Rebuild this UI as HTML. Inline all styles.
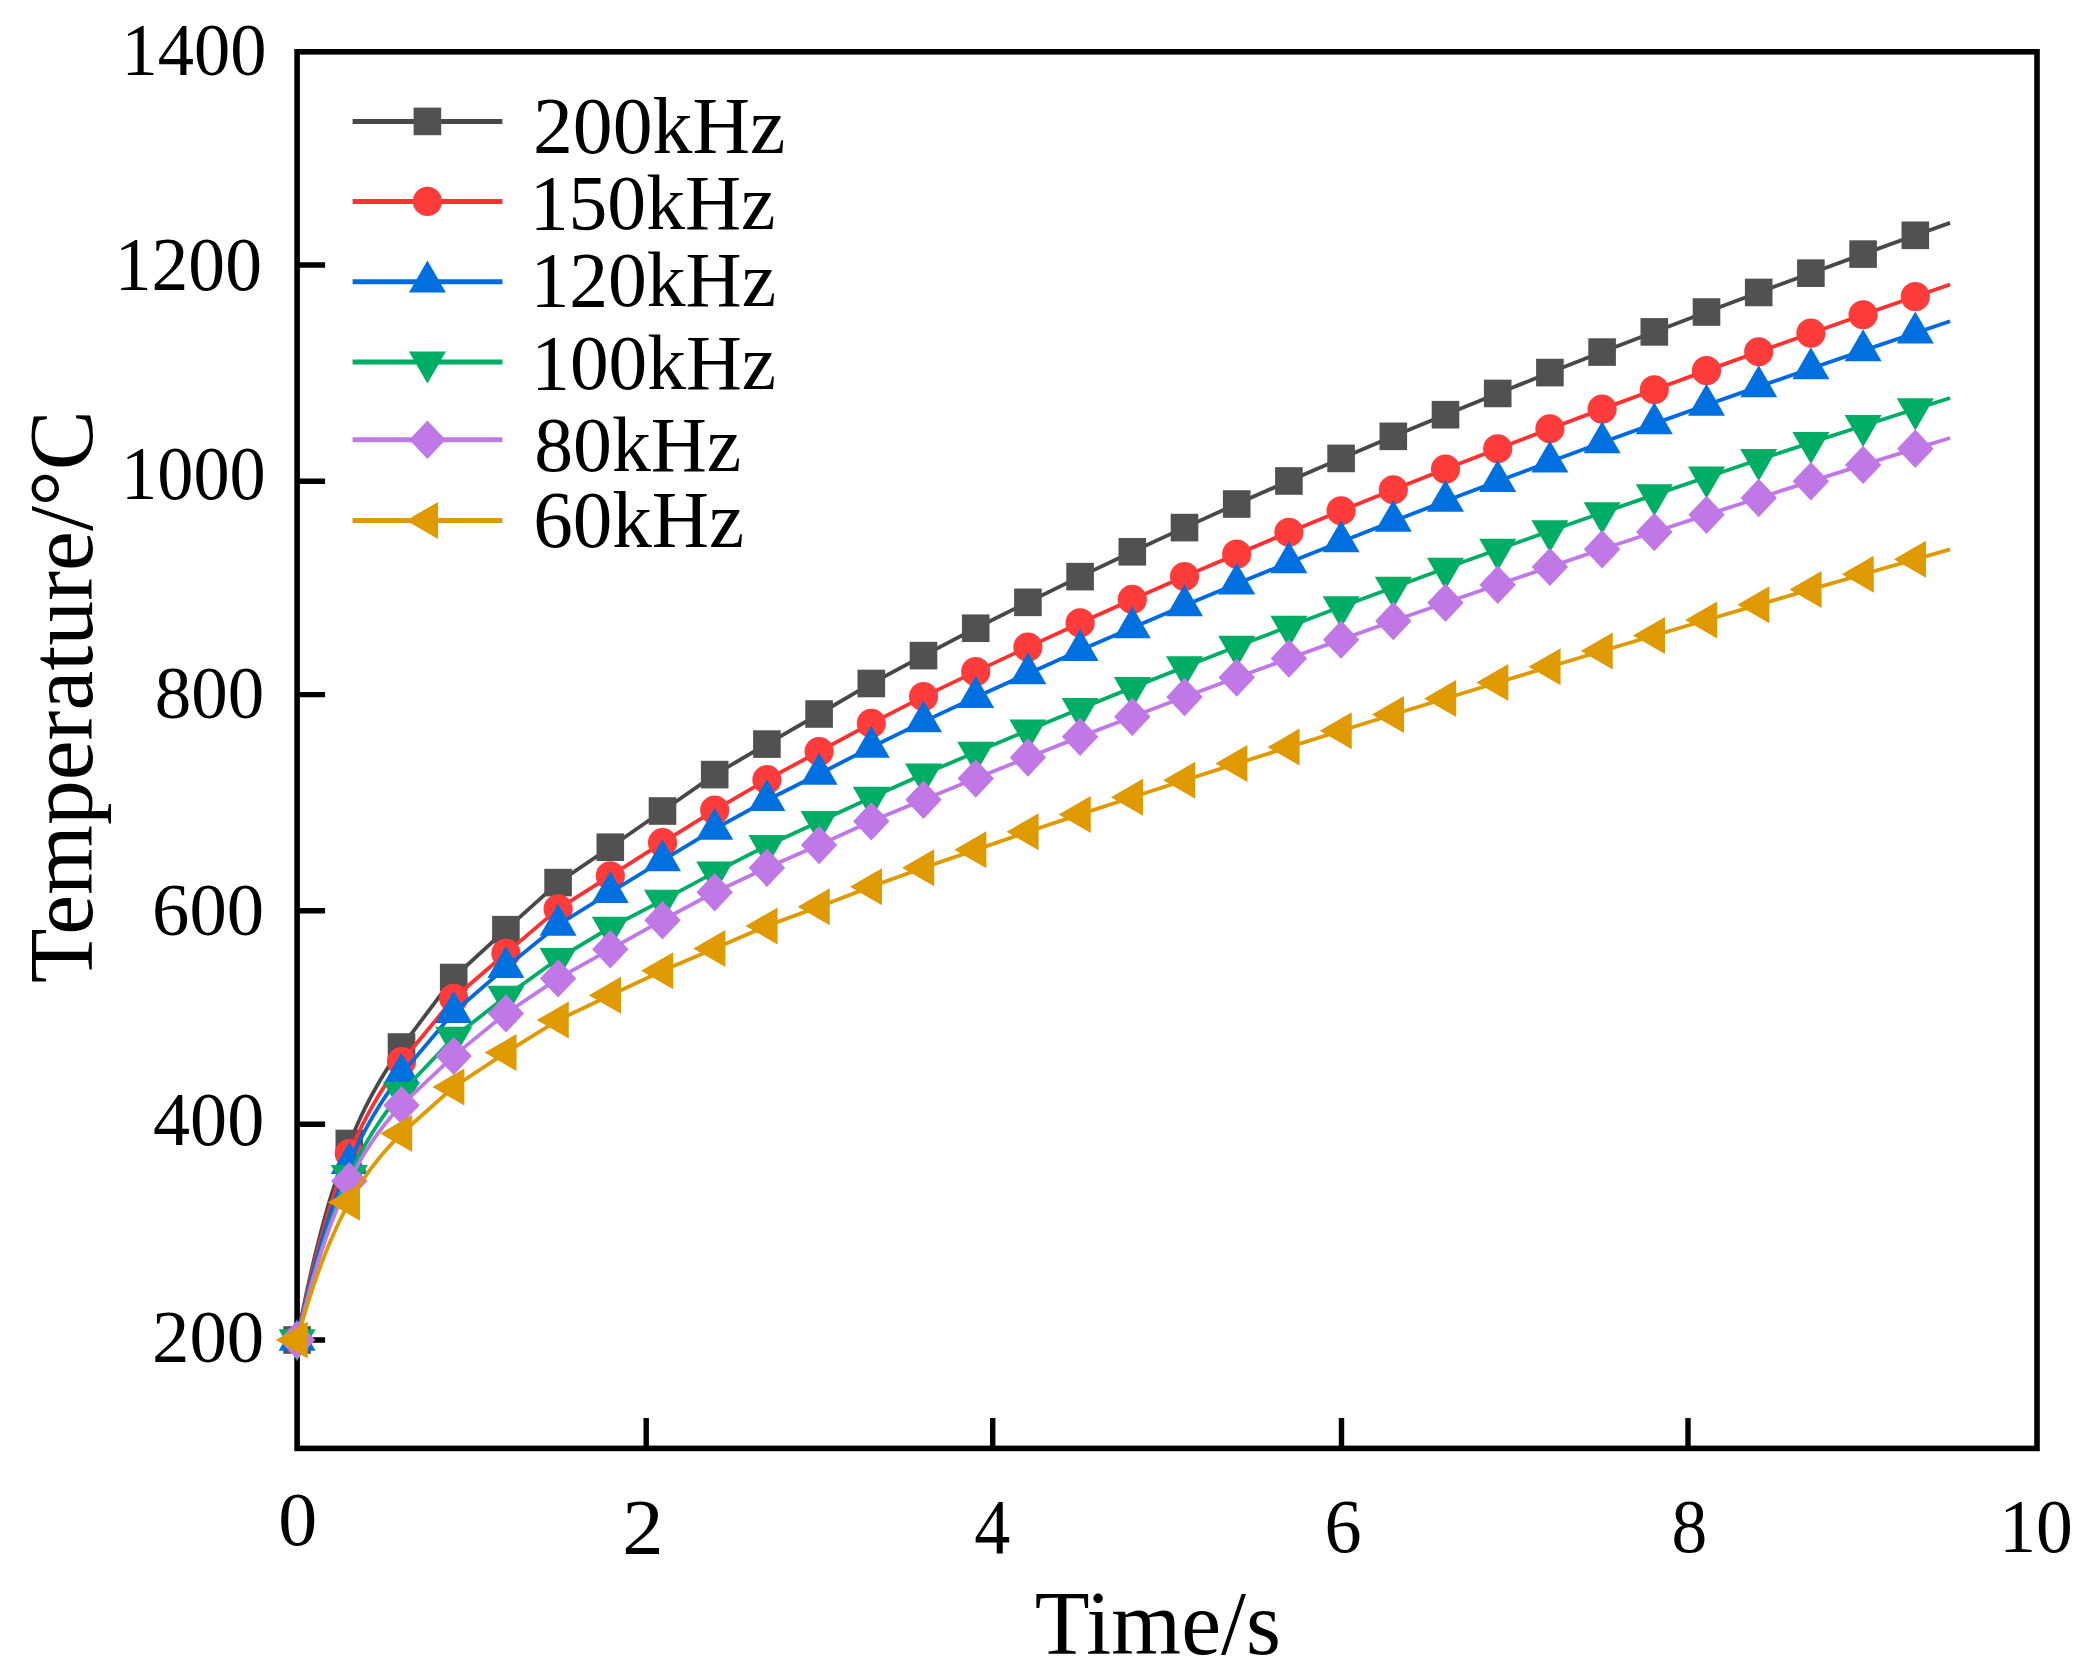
<!DOCTYPE html><html><head><meta charset="utf-8"><title>Temperature vs Time</title><style>html,body{margin:0;padding:0;background:#fff;overflow:hidden;width:2091px;height:1680px}svg{display:block}text{font-family:"Liberation Serif","Times New Roman",serif;fill:#000}</style></head><body>
<svg width="2091" height="1680" viewBox="0 0 2091 1680">
<rect width="2091" height="1680" fill="#fff"/>
<path d="M297.10,265.00H325.10M297.10,481.20H325.10M297.10,694.60H325.10M297.10,910.70H325.10M297.10,1124.30H325.10M297.10,1340.00H325.10M646.20,1448.40V1417.90M992.70,1448.40V1417.90M1341.50,1448.40V1417.90M1688.00,1448.40V1417.90" stroke="#000" stroke-width="5.4" fill="none"/>
<rect x="297.1" y="51.8" width="1739.90" height="1396.60" fill="none" stroke="#000" stroke-width="5.6"/>
<g><path d="M297.10,1340.00 L299.71,1326.36 L302.32,1313.20 L304.93,1300.49 L307.54,1288.24 L310.15,1276.41 L312.76,1265.02 L315.37,1254.03 L317.98,1243.45 L320.59,1233.25 L323.20,1223.44 L325.81,1213.99 L328.42,1204.89 L331.03,1196.14 L333.64,1187.72 L336.25,1179.62 L338.86,1171.82 L341.47,1164.33 L344.08,1157.12 L346.69,1150.18 L349.30,1143.50 L351.91,1137.07 L354.52,1130.88 L357.13,1124.92 L359.74,1119.18 L362.35,1113.63 L364.96,1108.28 L367.57,1103.11 L370.18,1098.11 L372.79,1093.26 L375.40,1088.56 L378.01,1084.00 L380.62,1079.55 L383.23,1075.22 L385.84,1070.98 L388.45,1066.84 L391.06,1062.76 L393.67,1058.76 L396.28,1054.80 L398.89,1050.89 L401.50,1047.00 L453.70,977.50 L505.90,929.70 L558.10,882.60 L610.30,847.20 L662.50,811.00 L714.70,774.60 L766.90,744.10 L819.10,714.00 L871.30,683.48 L923.50,655.62 L975.70,628.24 L1027.90,602.32 L1080.10,576.62 L1132.30,551.79 L1184.50,527.61 L1236.70,504.02 L1288.90,480.97 L1341.10,458.42 L1393.30,436.34 L1445.50,414.70 L1497.70,393.45 L1549.90,372.59 L1602.10,352.08 L1654.30,331.90 L1706.50,312.03 L1758.70,292.46 L1810.90,273.16 L1863.10,254.11 L1915.30,235.30 L1950.10,222.89" fill="none" stroke="#484848" stroke-width="3.8" stroke-linejoin="round"/>
<rect x="283.30" y="1326.20" width="27.6" height="27.6" fill="#515151"/>
<rect x="335.50" y="1129.70" width="27.6" height="27.6" fill="#515151"/>
<rect x="387.70" y="1033.20" width="27.6" height="27.6" fill="#515151"/>
<rect x="439.90" y="963.70" width="27.6" height="27.6" fill="#515151"/>
<rect x="492.10" y="915.90" width="27.6" height="27.6" fill="#515151"/>
<rect x="544.30" y="868.80" width="27.6" height="27.6" fill="#515151"/>
<rect x="596.50" y="833.40" width="27.6" height="27.6" fill="#515151"/>
<rect x="648.70" y="797.20" width="27.6" height="27.6" fill="#515151"/>
<rect x="700.90" y="760.80" width="27.6" height="27.6" fill="#515151"/>
<rect x="753.10" y="730.30" width="27.6" height="27.6" fill="#515151"/>
<rect x="805.30" y="700.20" width="27.6" height="27.6" fill="#515151"/>
<rect x="857.50" y="669.68" width="27.6" height="27.6" fill="#515151"/>
<rect x="909.70" y="641.82" width="27.6" height="27.6" fill="#515151"/>
<rect x="961.90" y="614.44" width="27.6" height="27.6" fill="#515151"/>
<rect x="1014.10" y="588.52" width="27.6" height="27.6" fill="#515151"/>
<rect x="1066.30" y="562.82" width="27.6" height="27.6" fill="#515151"/>
<rect x="1118.50" y="537.99" width="27.6" height="27.6" fill="#515151"/>
<rect x="1170.70" y="513.81" width="27.6" height="27.6" fill="#515151"/>
<rect x="1222.90" y="490.22" width="27.6" height="27.6" fill="#515151"/>
<rect x="1275.10" y="467.17" width="27.6" height="27.6" fill="#515151"/>
<rect x="1327.30" y="444.62" width="27.6" height="27.6" fill="#515151"/>
<rect x="1379.50" y="422.54" width="27.6" height="27.6" fill="#515151"/>
<rect x="1431.70" y="400.90" width="27.6" height="27.6" fill="#515151"/>
<rect x="1483.90" y="379.65" width="27.6" height="27.6" fill="#515151"/>
<rect x="1536.10" y="358.79" width="27.6" height="27.6" fill="#515151"/>
<rect x="1588.30" y="338.28" width="27.6" height="27.6" fill="#515151"/>
<rect x="1640.50" y="318.10" width="27.6" height="27.6" fill="#515151"/>
<rect x="1692.70" y="298.23" width="27.6" height="27.6" fill="#515151"/>
<rect x="1744.90" y="278.66" width="27.6" height="27.6" fill="#515151"/>
<rect x="1797.10" y="259.36" width="27.6" height="27.6" fill="#515151"/>
<rect x="1849.30" y="240.31" width="27.6" height="27.6" fill="#515151"/>
<rect x="1901.50" y="221.50" width="27.6" height="27.6" fill="#515151"/>
</g>
<g><path d="M297.10,1340.00 L299.71,1327.15 L302.32,1314.73 L304.93,1302.74 L307.54,1291.16 L310.15,1279.98 L312.76,1269.19 L315.37,1258.78 L317.98,1248.75 L320.59,1239.07 L323.20,1229.75 L325.81,1220.76 L328.42,1212.11 L331.03,1203.77 L333.64,1195.75 L336.25,1188.02 L338.86,1180.58 L341.47,1173.42 L344.08,1166.53 L346.69,1159.89 L349.30,1153.50 L351.91,1147.35 L354.52,1141.42 L357.13,1135.71 L359.74,1130.21 L362.35,1124.90 L364.96,1119.78 L367.57,1114.83 L370.18,1110.04 L372.79,1105.41 L375.40,1100.93 L378.01,1096.57 L380.62,1092.34 L383.23,1088.23 L385.84,1084.21 L388.45,1080.29 L391.06,1076.45 L393.67,1072.68 L396.28,1068.97 L398.89,1065.32 L401.50,1061.70 L453.70,998.30 L505.90,953.30 L558.10,908.90 L610.30,875.80 L662.50,842.70 L714.70,810.10 L766.90,779.70 L819.10,751.50 L871.30,723.39 L923.50,696.60 L975.70,671.63 L1027.90,647.11 L1080.10,622.92 L1132.30,599.45 L1184.50,576.54 L1236.70,554.16 L1288.90,532.25 L1341.10,510.79 L1393.30,489.73 L1445.50,469.06 L1497.70,448.75 L1549.90,428.78 L1602.10,409.11 L1654.30,389.74 L1706.50,370.63 L1758.70,351.78 L1810.90,333.17 L1863.10,314.77 L1915.30,296.58 L1950.10,284.56" fill="none" stroke="#FF3030" stroke-width="3.8" stroke-linejoin="round"/>
<circle cx="297.10" cy="1340.00" r="14.6" fill="#FF3C3C"/>
<circle cx="349.30" cy="1153.50" r="14.6" fill="#FF3C3C"/>
<circle cx="401.50" cy="1061.70" r="14.6" fill="#FF3C3C"/>
<circle cx="453.70" cy="998.30" r="14.6" fill="#FF3C3C"/>
<circle cx="505.90" cy="953.30" r="14.6" fill="#FF3C3C"/>
<circle cx="558.10" cy="908.90" r="14.6" fill="#FF3C3C"/>
<circle cx="610.30" cy="875.80" r="14.6" fill="#FF3C3C"/>
<circle cx="662.50" cy="842.70" r="14.6" fill="#FF3C3C"/>
<circle cx="714.70" cy="810.10" r="14.6" fill="#FF3C3C"/>
<circle cx="766.90" cy="779.70" r="14.6" fill="#FF3C3C"/>
<circle cx="819.10" cy="751.50" r="14.6" fill="#FF3C3C"/>
<circle cx="871.30" cy="723.39" r="14.6" fill="#FF3C3C"/>
<circle cx="923.50" cy="696.60" r="14.6" fill="#FF3C3C"/>
<circle cx="975.70" cy="671.63" r="14.6" fill="#FF3C3C"/>
<circle cx="1027.90" cy="647.11" r="14.6" fill="#FF3C3C"/>
<circle cx="1080.10" cy="622.92" r="14.6" fill="#FF3C3C"/>
<circle cx="1132.30" cy="599.45" r="14.6" fill="#FF3C3C"/>
<circle cx="1184.50" cy="576.54" r="14.6" fill="#FF3C3C"/>
<circle cx="1236.70" cy="554.16" r="14.6" fill="#FF3C3C"/>
<circle cx="1288.90" cy="532.25" r="14.6" fill="#FF3C3C"/>
<circle cx="1341.10" cy="510.79" r="14.6" fill="#FF3C3C"/>
<circle cx="1393.30" cy="489.73" r="14.6" fill="#FF3C3C"/>
<circle cx="1445.50" cy="469.06" r="14.6" fill="#FF3C3C"/>
<circle cx="1497.70" cy="448.75" r="14.6" fill="#FF3C3C"/>
<circle cx="1549.90" cy="428.78" r="14.6" fill="#FF3C3C"/>
<circle cx="1602.10" cy="409.11" r="14.6" fill="#FF3C3C"/>
<circle cx="1654.30" cy="389.74" r="14.6" fill="#FF3C3C"/>
<circle cx="1706.50" cy="370.63" r="14.6" fill="#FF3C3C"/>
<circle cx="1758.70" cy="351.78" r="14.6" fill="#FF3C3C"/>
<circle cx="1810.90" cy="333.17" r="14.6" fill="#FF3C3C"/>
<circle cx="1863.10" cy="314.77" r="14.6" fill="#FF3C3C"/>
<circle cx="1915.30" cy="296.58" r="14.6" fill="#FF3C3C"/>
</g>
<g><path d="M297.10,1340.00 L299.71,1327.97 L302.32,1316.32 L304.93,1305.07 L307.54,1294.18 L310.15,1283.66 L312.76,1273.49 L315.37,1263.67 L317.98,1254.18 L320.59,1245.02 L323.20,1236.18 L325.81,1227.65 L328.42,1219.42 L331.03,1211.48 L333.64,1203.83 L336.25,1196.44 L338.86,1189.32 L341.47,1182.46 L344.08,1175.84 L346.69,1169.46 L349.30,1163.30 L351.91,1157.36 L354.52,1151.63 L357.13,1146.11 L359.74,1140.77 L362.35,1135.61 L364.96,1130.63 L367.57,1125.81 L370.18,1121.14 L372.79,1116.63 L375.40,1112.24 L378.01,1107.99 L380.62,1103.85 L383.23,1099.82 L385.84,1095.89 L388.45,1092.05 L391.06,1088.29 L393.67,1084.61 L396.28,1080.99 L398.89,1077.42 L401.50,1073.90 L453.70,1012.40 L505.90,967.30 L558.10,925.00 L610.30,892.30 L662.50,860.50 L714.70,829.00 L766.90,800.30 L819.10,774.00 L871.30,747.19 L923.50,721.59 L975.70,697.22 L1027.90,673.66 L1080.10,650.33 L1132.30,627.67 L1184.50,605.50 L1236.70,583.80 L1288.90,562.53 L1341.10,541.66 L1393.30,521.17 L1445.50,501.03 L1497.70,481.23 L1549.90,461.74 L1602.10,442.56 L1654.30,423.66 L1706.50,405.03 L1758.70,386.66 L1810.90,368.53 L1863.10,350.63 L1915.30,332.94 L1950.10,321.26" fill="none" stroke="#0068E0" stroke-width="3.8" stroke-linejoin="round"/>
<polygon points="297.10,1318.64 278.60,1350.68 315.60,1350.68" fill="#0070E0"/>
<polygon points="349.30,1141.94 330.80,1173.98 367.80,1173.98" fill="#0070E0"/>
<polygon points="401.50,1052.54 383.00,1084.58 420.00,1084.58" fill="#0070E0"/>
<polygon points="453.70,991.04 435.20,1023.08 472.20,1023.08" fill="#0070E0"/>
<polygon points="505.90,945.94 487.40,977.98 524.40,977.98" fill="#0070E0"/>
<polygon points="558.10,903.64 539.60,935.68 576.60,935.68" fill="#0070E0"/>
<polygon points="610.30,870.94 591.80,902.98 628.80,902.98" fill="#0070E0"/>
<polygon points="662.50,839.14 644.00,871.18 681.00,871.18" fill="#0070E0"/>
<polygon points="714.70,807.64 696.20,839.68 733.20,839.68" fill="#0070E0"/>
<polygon points="766.90,778.94 748.40,810.98 785.40,810.98" fill="#0070E0"/>
<polygon points="819.10,752.64 800.60,784.68 837.60,784.68" fill="#0070E0"/>
<polygon points="871.30,725.83 852.80,757.87 889.80,757.87" fill="#0070E0"/>
<polygon points="923.50,700.23 905.00,732.27 942.00,732.27" fill="#0070E0"/>
<polygon points="975.70,675.86 957.20,707.90 994.20,707.90" fill="#0070E0"/>
<polygon points="1027.90,652.30 1009.40,684.34 1046.40,684.34" fill="#0070E0"/>
<polygon points="1080.10,628.97 1061.60,661.01 1098.60,661.01" fill="#0070E0"/>
<polygon points="1132.30,606.31 1113.80,638.35 1150.80,638.35" fill="#0070E0"/>
<polygon points="1184.50,584.14 1166.00,616.18 1203.00,616.18" fill="#0070E0"/>
<polygon points="1236.70,562.44 1218.20,594.48 1255.20,594.48" fill="#0070E0"/>
<polygon points="1288.90,541.17 1270.40,573.21 1307.40,573.21" fill="#0070E0"/>
<polygon points="1341.10,520.30 1322.60,552.34 1359.60,552.34" fill="#0070E0"/>
<polygon points="1393.30,499.81 1374.80,531.85 1411.80,531.85" fill="#0070E0"/>
<polygon points="1445.50,479.67 1427.00,511.71 1464.00,511.71" fill="#0070E0"/>
<polygon points="1497.70,459.87 1479.20,491.91 1516.20,491.91" fill="#0070E0"/>
<polygon points="1549.90,440.38 1531.40,472.42 1568.40,472.42" fill="#0070E0"/>
<polygon points="1602.10,421.20 1583.60,453.24 1620.60,453.24" fill="#0070E0"/>
<polygon points="1654.30,402.30 1635.80,434.34 1672.80,434.34" fill="#0070E0"/>
<polygon points="1706.50,383.67 1688.00,415.71 1725.00,415.71" fill="#0070E0"/>
<polygon points="1758.70,365.30 1740.20,397.34 1777.20,397.34" fill="#0070E0"/>
<polygon points="1810.90,347.17 1792.40,379.21 1829.40,379.21" fill="#0070E0"/>
<polygon points="1863.10,329.27 1844.60,361.31 1881.60,361.31" fill="#0070E0"/>
<polygon points="1915.30,311.58 1896.80,343.62 1933.80,343.62" fill="#0070E0"/>
</g>
<g><path d="M297.10,1340.00 L299.71,1328.88 L302.32,1318.12 L304.93,1307.70 L307.54,1297.62 L310.15,1287.86 L312.76,1278.43 L315.37,1269.31 L317.98,1260.50 L320.59,1251.98 L323.20,1243.76 L325.81,1235.82 L328.42,1228.15 L331.03,1220.74 L333.64,1213.60 L336.25,1206.70 L338.86,1200.05 L341.47,1193.63 L344.08,1187.44 L346.69,1181.46 L349.30,1175.70 L351.91,1170.14 L354.52,1164.77 L357.13,1159.60 L359.74,1154.60 L362.35,1149.77 L364.96,1145.10 L367.57,1140.59 L370.18,1136.23 L372.79,1132.01 L375.40,1127.92 L378.01,1123.95 L380.62,1120.10 L383.23,1116.35 L385.84,1112.71 L388.45,1109.16 L391.06,1105.69 L393.67,1102.30 L396.28,1098.97 L398.89,1095.71 L401.50,1092.50 L453.70,1037.50 L505.90,996.40 L558.10,958.70 L610.30,927.50 L662.50,900.40 L714.70,872.30 L766.90,845.70 L819.10,821.80 L871.30,797.48 L923.50,774.29 L975.70,752.34 L1027.90,730.30 L1080.10,708.74 L1132.30,687.63 L1184.50,666.91 L1236.70,646.54 L1288.90,626.52 L1341.10,606.81 L1393.30,587.43 L1445.50,568.34 L1497.70,549.55 L1549.90,531.04 L1602.10,512.82 L1654.30,494.87 L1706.50,477.19 L1758.70,459.77 L1810.90,442.61 L1863.10,425.70 L1915.30,409.03 L1950.10,398.05" fill="none" stroke="#00AD65" stroke-width="3.8" stroke-linejoin="round"/>
<polygon points="297.10,1361.36 278.60,1329.32 315.60,1329.32" fill="#00AD65"/>
<polygon points="349.30,1197.06 330.80,1165.02 367.80,1165.02" fill="#00AD65"/>
<polygon points="401.50,1113.86 383.00,1081.82 420.00,1081.82" fill="#00AD65"/>
<polygon points="453.70,1058.86 435.20,1026.82 472.20,1026.82" fill="#00AD65"/>
<polygon points="505.90,1017.76 487.40,985.72 524.40,985.72" fill="#00AD65"/>
<polygon points="558.10,980.06 539.60,948.02 576.60,948.02" fill="#00AD65"/>
<polygon points="610.30,948.86 591.80,916.82 628.80,916.82" fill="#00AD65"/>
<polygon points="662.50,921.76 644.00,889.72 681.00,889.72" fill="#00AD65"/>
<polygon points="714.70,893.66 696.20,861.62 733.20,861.62" fill="#00AD65"/>
<polygon points="766.90,867.06 748.40,835.02 785.40,835.02" fill="#00AD65"/>
<polygon points="819.10,843.16 800.60,811.12 837.60,811.12" fill="#00AD65"/>
<polygon points="871.30,818.84 852.80,786.80 889.80,786.80" fill="#00AD65"/>
<polygon points="923.50,795.65 905.00,763.61 942.00,763.61" fill="#00AD65"/>
<polygon points="975.70,773.70 957.20,741.66 994.20,741.66" fill="#00AD65"/>
<polygon points="1027.90,751.66 1009.40,719.62 1046.40,719.62" fill="#00AD65"/>
<polygon points="1080.10,730.10 1061.60,698.06 1098.60,698.06" fill="#00AD65"/>
<polygon points="1132.30,708.99 1113.80,676.95 1150.80,676.95" fill="#00AD65"/>
<polygon points="1184.50,688.27 1166.00,656.23 1203.00,656.23" fill="#00AD65"/>
<polygon points="1236.70,667.90 1218.20,635.86 1255.20,635.86" fill="#00AD65"/>
<polygon points="1288.90,647.88 1270.40,615.84 1307.40,615.84" fill="#00AD65"/>
<polygon points="1341.10,628.17 1322.60,596.13 1359.60,596.13" fill="#00AD65"/>
<polygon points="1393.30,608.79 1374.80,576.75 1411.80,576.75" fill="#00AD65"/>
<polygon points="1445.50,589.70 1427.00,557.66 1464.00,557.66" fill="#00AD65"/>
<polygon points="1497.70,570.91 1479.20,538.87 1516.20,538.87" fill="#00AD65"/>
<polygon points="1549.90,552.40 1531.40,520.36 1568.40,520.36" fill="#00AD65"/>
<polygon points="1602.10,534.18 1583.60,502.14 1620.60,502.14" fill="#00AD65"/>
<polygon points="1654.30,516.23 1635.80,484.19 1672.80,484.19" fill="#00AD65"/>
<polygon points="1706.50,498.55 1688.00,466.51 1725.00,466.51" fill="#00AD65"/>
<polygon points="1758.70,481.13 1740.20,449.09 1777.20,449.09" fill="#00AD65"/>
<polygon points="1810.90,463.97 1792.40,431.93 1829.40,431.93" fill="#00AD65"/>
<polygon points="1863.10,447.06 1844.60,415.02 1881.60,415.02" fill="#00AD65"/>
<polygon points="1915.30,430.39 1896.80,398.35 1933.80,398.35" fill="#00AD65"/>
</g>
<g><path d="M297.10,1340.00 L299.71,1329.08 L302.32,1318.53 L304.93,1308.33 L307.54,1298.47 L310.15,1288.95 L312.76,1279.76 L315.37,1270.89 L317.98,1262.34 L320.59,1254.09 L323.20,1246.13 L325.81,1238.46 L328.42,1231.08 L331.03,1223.96 L333.64,1217.11 L336.25,1210.52 L338.86,1204.17 L341.47,1198.06 L344.08,1192.19 L346.69,1186.54 L349.30,1181.10 L351.91,1175.87 L354.52,1170.84 L357.13,1166.01 L359.74,1161.35 L362.35,1156.87 L364.96,1152.56 L367.57,1148.41 L370.18,1144.40 L372.79,1140.54 L375.40,1136.82 L378.01,1133.22 L380.62,1129.74 L383.23,1126.37 L385.84,1123.11 L388.45,1119.93 L391.06,1116.85 L393.67,1113.84 L396.28,1110.90 L398.89,1108.02 L401.50,1105.20 L453.70,1055.90 L505.90,1013.40 L558.10,978.40 L610.30,949.30 L662.50,920.20 L714.70,892.30 L766.90,867.70 L819.10,845.00 L871.30,821.25 L923.50,799.79 L975.70,778.50 L1027.90,757.45 L1080.10,736.86 L1132.30,716.75 L1184.50,697.00 L1236.70,677.58 L1288.90,658.46 L1341.10,639.63 L1393.30,621.06 L1445.50,602.76 L1497.70,584.70 L1549.90,566.89 L1602.10,549.31 L1654.30,531.97 L1706.50,514.86 L1758.70,497.98 L1810.90,481.32 L1863.10,464.89 L1915.30,448.68 L1950.10,438.00" fill="none" stroke="#C078E6" stroke-width="3.8" stroke-linejoin="round"/>
<polygon points="297.10,1320.80 315.30,1340.00 297.10,1359.20 278.90,1340.00" fill="#C078E6"/>
<polygon points="349.30,1161.90 367.50,1181.10 349.30,1200.30 331.10,1181.10" fill="#C078E6"/>
<polygon points="401.50,1086.00 419.70,1105.20 401.50,1124.40 383.30,1105.20" fill="#C078E6"/>
<polygon points="453.70,1036.70 471.90,1055.90 453.70,1075.10 435.50,1055.90" fill="#C078E6"/>
<polygon points="505.90,994.20 524.10,1013.40 505.90,1032.60 487.70,1013.40" fill="#C078E6"/>
<polygon points="558.10,959.20 576.30,978.40 558.10,997.60 539.90,978.40" fill="#C078E6"/>
<polygon points="610.30,930.10 628.50,949.30 610.30,968.50 592.10,949.30" fill="#C078E6"/>
<polygon points="662.50,901.00 680.70,920.20 662.50,939.40 644.30,920.20" fill="#C078E6"/>
<polygon points="714.70,873.10 732.90,892.30 714.70,911.50 696.50,892.30" fill="#C078E6"/>
<polygon points="766.90,848.50 785.10,867.70 766.90,886.90 748.70,867.70" fill="#C078E6"/>
<polygon points="819.10,825.80 837.30,845.00 819.10,864.20 800.90,845.00" fill="#C078E6"/>
<polygon points="871.30,802.05 889.50,821.25 871.30,840.45 853.10,821.25" fill="#C078E6"/>
<polygon points="923.50,780.59 941.70,799.79 923.50,818.99 905.30,799.79" fill="#C078E6"/>
<polygon points="975.70,759.30 993.90,778.50 975.70,797.70 957.50,778.50" fill="#C078E6"/>
<polygon points="1027.90,738.25 1046.10,757.45 1027.90,776.65 1009.70,757.45" fill="#C078E6"/>
<polygon points="1080.10,717.66 1098.30,736.86 1080.10,756.06 1061.90,736.86" fill="#C078E6"/>
<polygon points="1132.30,697.55 1150.50,716.75 1132.30,735.95 1114.10,716.75" fill="#C078E6"/>
<polygon points="1184.50,677.80 1202.70,697.00 1184.50,716.20 1166.30,697.00" fill="#C078E6"/>
<polygon points="1236.70,658.38 1254.90,677.58 1236.70,696.78 1218.50,677.58" fill="#C078E6"/>
<polygon points="1288.90,639.26 1307.10,658.46 1288.90,677.66 1270.70,658.46" fill="#C078E6"/>
<polygon points="1341.10,620.43 1359.30,639.63 1341.10,658.83 1322.90,639.63" fill="#C078E6"/>
<polygon points="1393.30,601.86 1411.50,621.06 1393.30,640.26 1375.10,621.06" fill="#C078E6"/>
<polygon points="1445.50,583.56 1463.70,602.76 1445.50,621.96 1427.30,602.76" fill="#C078E6"/>
<polygon points="1497.70,565.50 1515.90,584.70 1497.70,603.90 1479.50,584.70" fill="#C078E6"/>
<polygon points="1549.90,547.69 1568.10,566.89 1549.90,586.09 1531.70,566.89" fill="#C078E6"/>
<polygon points="1602.10,530.11 1620.30,549.31 1602.10,568.51 1583.90,549.31" fill="#C078E6"/>
<polygon points="1654.30,512.77 1672.50,531.97 1654.30,551.17 1636.10,531.97" fill="#C078E6"/>
<polygon points="1706.50,495.66 1724.70,514.86 1706.50,534.06 1688.30,514.86" fill="#C078E6"/>
<polygon points="1758.70,478.78 1776.90,497.98 1758.70,517.18 1740.50,497.98" fill="#C078E6"/>
<polygon points="1810.90,462.12 1829.10,481.32 1810.90,500.52 1792.70,481.32" fill="#C078E6"/>
<polygon points="1863.10,445.69 1881.30,464.89 1863.10,484.09 1844.90,464.89" fill="#C078E6"/>
<polygon points="1915.30,429.48 1933.50,448.68 1915.30,467.88 1897.10,448.68" fill="#C078E6"/>
</g>
<g><path d="M297.10,1340.00 L299.71,1330.60 L302.32,1321.51 L304.93,1312.72 L307.54,1304.22 L310.15,1296.01 L312.76,1288.08 L315.37,1280.42 L317.98,1273.02 L320.59,1265.88 L323.20,1258.99 L325.81,1252.34 L328.42,1245.93 L331.03,1239.75 L333.64,1233.79 L336.25,1228.05 L338.86,1222.51 L341.47,1217.18 L344.08,1212.03 L346.69,1207.08 L349.30,1202.30 L351.91,1197.70 L354.52,1193.26 L357.13,1188.97 L359.74,1184.84 L362.35,1180.86 L364.96,1177.01 L367.57,1173.29 L370.18,1169.69 L372.79,1166.21 L375.40,1162.83 L378.01,1159.56 L380.62,1156.38 L383.23,1153.29 L385.84,1150.28 L388.45,1147.34 L391.06,1144.47 L393.67,1141.66 L396.28,1138.90 L398.89,1136.18 L401.50,1133.50 L453.70,1087.00 L505.90,1052.60 L558.10,1020.10 L610.30,995.20 L662.50,970.70 L714.70,948.60 L766.90,925.90 L819.10,906.70 L871.30,886.63 L923.50,867.68 L975.70,849.85 L1027.90,831.81 L1080.10,814.39 L1132.30,797.21 L1184.50,780.30 L1236.70,763.59 L1288.90,747.08 L1341.10,730.73 L1393.30,714.53 L1445.50,698.47 L1497.70,682.54 L1549.90,666.72 L1602.10,651.03 L1654.30,635.45 L1706.50,619.98 L1758.70,604.63 L1810.90,589.40 L1863.10,574.29 L1915.30,559.32 L1950.10,549.41" fill="none" stroke="#DE9A00" stroke-width="3.8" stroke-linejoin="round"/>
<polygon points="275.74,1340.00 307.78,1321.50 307.78,1358.50" fill="#DE9A00"/>
<polygon points="327.94,1202.30 359.98,1183.80 359.98,1220.80" fill="#DE9A00"/>
<polygon points="380.14,1133.50 412.18,1115.00 412.18,1152.00" fill="#DE9A00"/>
<polygon points="432.34,1087.00 464.38,1068.50 464.38,1105.50" fill="#DE9A00"/>
<polygon points="484.54,1052.60 516.58,1034.10 516.58,1071.10" fill="#DE9A00"/>
<polygon points="536.74,1020.10 568.78,1001.60 568.78,1038.60" fill="#DE9A00"/>
<polygon points="588.94,995.20 620.98,976.70 620.98,1013.70" fill="#DE9A00"/>
<polygon points="641.14,970.70 673.18,952.20 673.18,989.20" fill="#DE9A00"/>
<polygon points="693.34,948.60 725.38,930.10 725.38,967.10" fill="#DE9A00"/>
<polygon points="745.54,925.90 777.58,907.40 777.58,944.40" fill="#DE9A00"/>
<polygon points="797.74,906.70 829.78,888.20 829.78,925.20" fill="#DE9A00"/>
<polygon points="849.94,886.63 881.98,868.13 881.98,905.13" fill="#DE9A00"/>
<polygon points="902.14,867.68 934.18,849.18 934.18,886.18" fill="#DE9A00"/>
<polygon points="954.34,849.85 986.38,831.35 986.38,868.35" fill="#DE9A00"/>
<polygon points="1006.54,831.81 1038.58,813.31 1038.58,850.31" fill="#DE9A00"/>
<polygon points="1058.74,814.39 1090.78,795.89 1090.78,832.89" fill="#DE9A00"/>
<polygon points="1110.94,797.21 1142.98,778.71 1142.98,815.71" fill="#DE9A00"/>
<polygon points="1163.14,780.30 1195.18,761.80 1195.18,798.80" fill="#DE9A00"/>
<polygon points="1215.34,763.59 1247.38,745.09 1247.38,782.09" fill="#DE9A00"/>
<polygon points="1267.54,747.08 1299.58,728.58 1299.58,765.58" fill="#DE9A00"/>
<polygon points="1319.74,730.73 1351.78,712.23 1351.78,749.23" fill="#DE9A00"/>
<polygon points="1371.94,714.53 1403.98,696.03 1403.98,733.03" fill="#DE9A00"/>
<polygon points="1424.14,698.47 1456.18,679.97 1456.18,716.97" fill="#DE9A00"/>
<polygon points="1476.34,682.54 1508.38,664.04 1508.38,701.04" fill="#DE9A00"/>
<polygon points="1528.54,666.72 1560.58,648.22 1560.58,685.22" fill="#DE9A00"/>
<polygon points="1580.74,651.03 1612.78,632.53 1612.78,669.53" fill="#DE9A00"/>
<polygon points="1632.94,635.45 1664.98,616.95 1664.98,653.95" fill="#DE9A00"/>
<polygon points="1685.14,619.98 1717.18,601.48 1717.18,638.48" fill="#DE9A00"/>
<polygon points="1737.34,604.63 1769.38,586.13 1769.38,623.13" fill="#DE9A00"/>
<polygon points="1789.54,589.40 1821.58,570.90 1821.58,607.90" fill="#DE9A00"/>
<polygon points="1841.74,574.29 1873.78,555.79 1873.78,592.79" fill="#DE9A00"/>
<polygon points="1893.94,559.32 1925.98,540.82 1925.98,577.82" fill="#DE9A00"/>
</g>
<path d="M352.6,121.4H502.4" stroke="#484848" stroke-width="5.0" fill="none"/>
<rect x="413.60" y="107.60" width="27.6" height="27.6" fill="#515151"/>
<path d="M352.6,201.4H502.4" stroke="#FF3030" stroke-width="5.0" fill="none"/>
<circle cx="427.40" cy="201.40" r="14.6" fill="#FF3C3C"/>
<path d="M352.6,281.8H502.4" stroke="#0068E0" stroke-width="5.0" fill="none"/>
<polygon points="427.40,260.44 408.90,292.48 445.90,292.48" fill="#0070E0"/>
<path d="M352.6,362.1H502.4" stroke="#00AD65" stroke-width="5.0" fill="none"/>
<polygon points="427.40,383.46 408.90,351.42 445.90,351.42" fill="#00AD65"/>
<path d="M352.6,439.8H502.4" stroke="#C078E6" stroke-width="5.0" fill="none"/>
<polygon points="427.40,420.60 445.60,439.80 427.40,459.00 409.20,439.80" fill="#C078E6"/>
<path d="M352.6,520.4H502.4" stroke="#DE9A00" stroke-width="5.0" fill="none"/>
<polygon points="406.04,520.40 438.08,501.90 438.08,538.90" fill="#DE9A00"/>
<text transform="translate(121.54,75.46) scale(0.9749,1)" font-size="74.37">1400</text>
<text transform="translate(114.74,289.73) scale(0.9574,1)" font-size="76.89">1200</text>
<text transform="translate(121.05,499.43) scale(0.9445,1)" font-size="76.59">1000</text>
<text transform="translate(154.75,717.76) scale(0.9807,1)" font-size="74.37">800</text>
<text transform="translate(152.11,935.15) scale(0.9990,1)" font-size="74.81">600</text>
<text transform="translate(153.09,1144.84) scale(0.9765,1)" font-size="75.85">400</text>
<text transform="translate(152.11,1362.27) scale(1.0212,1)" font-size="73.19">200</text>
<text transform="translate(278.37,1545.24) scale(1.0251,1)" font-size="76.00">0</text>
<text transform="translate(622.19,1553.30) scale(1.0601,1)" font-size="78.03">2</text>
<text transform="translate(974.32,1552.80) scale(0.9334,1)" font-size="77.27">4</text>
<text transform="translate(1324.43,1552.04) scale(0.9755,1)" font-size="76.12">6</text>
<text transform="translate(1671.50,1552.44) scale(0.9412,1)" font-size="75.85">8</text>
<text transform="translate(1999.35,1552.44) scale(0.9618,1)" font-size="76.44">10</text>
<text transform="translate(532.91,152.99) scale(0.9847,1)" font-size="80.99">200kHz</text>
<text transform="translate(529.70,229.32) scale(0.9900,1)" font-size="78.44">150kHz</text>
<text transform="translate(530.40,305.72) scale(1.0004,1)" font-size="77.59">120kHz</text>
<text transform="translate(531.33,389.41) scale(0.9783,1)" font-size="79.01">100kHz</text>
<text transform="translate(534.28,471.02) scale(0.9938,1)" font-size="78.16">80kHz</text>
<text transform="translate(533.13,547.10) scale(0.9913,1)" font-size="79.86">60kHz</text>
<text transform="translate(1034.65,1653.60) scale(0.9989,1)" font-size="89.93">Time/s</text>
<text transform="translate(92.30,983.35) rotate(-90) scale(0.9833,1)" font-size="91.30">Temperature/°C</text>
</svg></body></html>
